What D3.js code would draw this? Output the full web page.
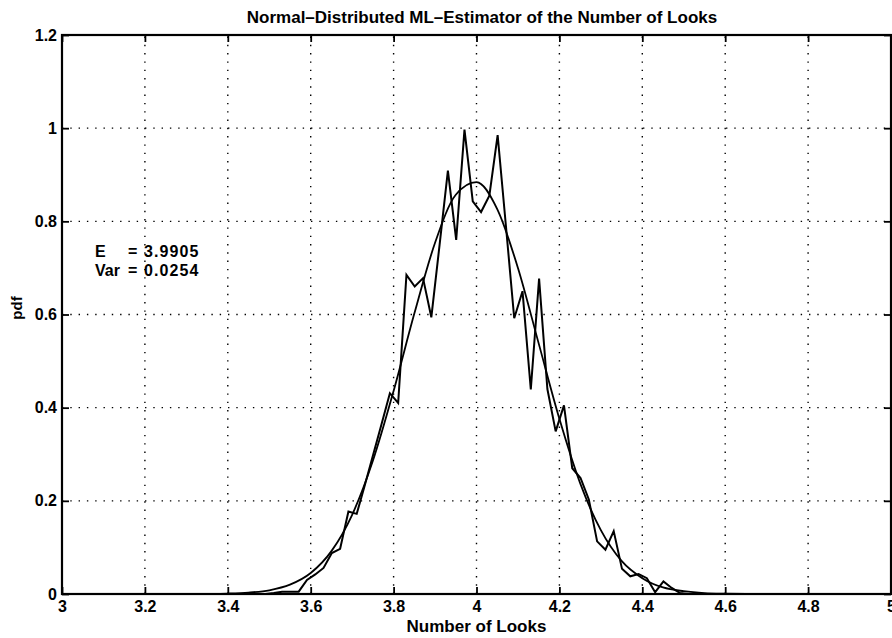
<!DOCTYPE html>
<html>
<head>
<meta charset="utf-8">
<script src="https://cdn.jsdelivr.net/npm/d3@7"></script>
<style>
  html, body { margin: 0; padding: 0; background: #fff; }
  svg { display: block; }
  text { font-family: "Liberation Sans", Arial, Helvetica, sans-serif; fill: #000; }
</style>
</head>
<body>
<svg id="chart" width="892" height="638"></svg>
<script>
// ---- Data ----
const titleText = "Normal–Distributed ML–Estimator of the Number of Looks";
const xLabelText = "Number of Looks";
const yLabelText = "pdf";
const annotationLines = [["E", "= 3.9905"], ["Var", "= 0.0254"]];

const xTicks = [3, 3.2, 3.4, 3.6, 3.8, 4, 4.2, 4.4, 4.6, 4.8, 5];
const xTickLabels = ["3", "3.2", "3.4", "3.6", "3.8", "4", "4.2", "4.4", "4.6", "4.8", "5"];
const yTicks = [0, 0.2, 0.4, 0.6, 0.8, 1, 1.2];
const yTickLabels = ["0", "0.2", "0.4", "0.6", "0.8", "1", "1.2"];

// empirical histogram (bin centres, pdf)
const histX = [3.471, 3.491, 3.511, 3.531, 3.551, 3.571, 3.591, 3.611, 3.631, 3.651,
               3.671, 3.691, 3.711, 3.731, 3.751, 3.771, 3.791, 3.811, 3.831, 3.851,
               3.871, 3.891, 3.911, 3.931, 3.951, 3.971, 3.991, 4.011, 4.031, 4.051,
               4.071, 4.091, 4.111, 4.131, 4.151, 4.171, 4.191, 4.211, 4.231, 4.251,
               4.271, 4.291, 4.311, 4.331, 4.351, 4.371, 4.391, 4.411, 4.431, 4.451,
               4.471, 4.491, 4.511, 4.531];
const histY = [0, 0, 0.002, 0.005, 0.005, 0.005, 0.030, 0.042, 0.056, 0.088,
               0.097, 0.177, 0.172, 0.235, 0.300, 0.365, 0.431, 0.410, 0.685, 0.660,
               0.678, 0.594, 0.750, 0.909, 0.760, 0.997, 0.843, 0.820, 0.855, 0.985,
               0.790, 0.592, 0.650, 0.439, 0.677, 0.440, 0.349, 0.405, 0.270, 0.249,
               0.203, 0.113, 0.095, 0.135, 0.054, 0.038, 0.043, 0.034, 0.004, 0.027,
               0.013, 0.002, 0, 0];

// fitted normal curve
const fitX = [3.0, 3.30, 3.35, 3.40, 3.45, 3.50, 3.55, 3.60, 3.65, 3.70, 3.75, 3.80, 3.85,
              3.90, 3.95, 4.00, 4.05, 4.10, 4.15, 4.20, 4.25, 4.30, 4.35, 4.40,
              4.45, 4.50, 4.55, 4.60, 4.65, 4.70, 5.0];
const fitY = [0, 0, 0.0003, 0.001, 0.003, 0.008, 0.020, 0.045, 0.092, 0.170, 0.286, 0.436, 0.602,
              0.754, 0.857, 0.884, 0.826, 0.700, 0.538, 0.376, 0.238, 0.137, 0.071, 0.034,
              0.014, 0.006, 0.002, 0.0007, 0.0002, 0, 0];

// ---- Drawing ----
const svg = d3.select("#chart");
const x = d3.scaleLinear().domain([3, 5]).range([62, 891]);
const y = d3.scaleLinear().domain([0, 1.2]).range([594, 35]);
const [x0, x1] = x.range();
const [yb, yt] = y.range();

const gridG = svg.append("g");
gridG.selectAll("line.vg").data(xTicks.slice(1, -1)).join("line")
  .attr("x1", d => x(d)).attr("x2", d => x(d)).attr("y1", yb).attr("y2", yt)
  .attr("stroke", "#000").attr("stroke-width", 1.4).attr("stroke-dasharray", "1.4,6.9");
gridG.selectAll("line.hg").data(yTicks.slice(1, -1)).join("line")
  .attr("x1", x0).attr("x2", x1).attr("y1", d => y(d)).attr("y2", d => y(d))
  .attr("stroke", "#000").attr("stroke-width", 1.4).attr("stroke-dasharray", "1.4,6.9");

// axes with inward ticks on all four sides
const fs = 16;
const bottomAxis = d3.axisBottom(x).tickValues(xTicks).tickFormat((d, i) => xTickLabels[i]).tickSizeInner(-7).tickSizeOuter(0).tickPadding(7);
const topAxis = d3.axisTop(x).tickValues(xTicks).tickFormat("").tickSizeInner(-7).tickSizeOuter(0);
const leftAxis = d3.axisLeft(y).tickValues(yTicks).tickFormat((d, i) => yTickLabels[i]).tickSizeInner(-7).tickSizeOuter(0).tickPadding(5);
const rightAxis = d3.axisRight(y).tickValues(yTicks).tickFormat("").tickSizeInner(-7).tickSizeOuter(0);

function styleAxis(g) {
  g.select(".domain").remove();
  g.selectAll(".tick line").attr("stroke", "#000").attr("stroke-width", 1.8);
  g.selectAll(".tick text").attr("font-size", fs).attr("font-weight", "bold").attr("fill", "#000");
}
svg.append("g").attr("transform", `translate(0,${yb})`).call(bottomAxis).call(styleAxis);
svg.append("g").attr("transform", `translate(0,${yt})`).call(topAxis).call(styleAxis);
svg.append("g").attr("transform", `translate(${x0},0)`).call(leftAxis).call(styleAxis);
svg.append("g").attr("transform", `translate(${x1},0)`).call(rightAxis).call(styleAxis);

// box
svg.append("rect").attr("x", x0).attr("y", yt).attr("width", x1 - x0).attr("height", yb - yt)
  .attr("fill", "none").attr("stroke", "#000").attr("stroke-width", 2.2);

// curves
const histLine = d3.line().x((d, i) => x(histX[i])).y(d => y(d));
svg.append("path").datum(histY).attr("d", histLine)
  .attr("fill", "none").attr("stroke", "#000").attr("stroke-width", 2).attr("stroke-linejoin", "miter");

const fitLine = d3.line().x((d, i) => x(fitX[i])).y(d => y(d)).curve(d3.curveMonotoneX);
svg.append("path").datum(fitY).attr("d", fitLine)
  .attr("fill", "none").attr("stroke", "#000").attr("stroke-width", 1.8);

// title & labels
svg.append("text").attr("x", 482).attr("y", 23).attr("text-anchor", "middle")
  .attr("font-size", 17).attr("font-weight", "bold").text(titleText);
svg.append("text").attr("x", (x0 + x1) / 2).attr("y", 632).attr("text-anchor", "middle")
  .attr("font-size", 17).attr("font-weight", "bold").text(xLabelText);
svg.append("text").attr("transform", `translate(22,308) rotate(-90)`).attr("text-anchor", "middle")
  .attr("font-size", 15).attr("font-weight", "bold").text(yLabelText);

// annotation
const ann = svg.append("g");
annotationLines.forEach((row, i) => {
  ann.append("text").attr("x", 95).attr("y", 257 + i * 18.5).attr("font-size", 16).attr("font-weight", "bold").text(row[0]);
  ann.append("text").attr("x", 128).attr("y", 257 + i * 18.5).attr("font-size", 16).attr("font-weight", "bold")
    .attr("letter-spacing", 1.1).text(row[1]);
});
</script>
</body>
</html>
